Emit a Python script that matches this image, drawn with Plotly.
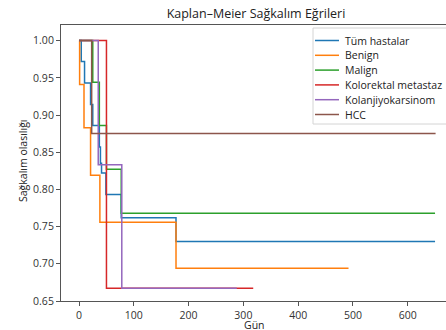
import plotly.graph_objects as go

# Kaplan-Meier step data (days, survival probability)
tum_t = [0, 4, 10, 21, 25, 37, 39, 41, 49, 77, 177, 650]
tum_s = [1.0, 0.972, 0.943, 0.914, 0.886, 0.857, 0.835, 0.822, 0.793, 0.762, 0.730, 0.730]

benign_t = [0, 1, 9, 21, 38, 177, 492]
benign_s = [1.0, 0.941, 0.883, 0.819, 0.756, 0.694, 0.694]

malign_t = [0, 25, 37, 50, 77, 650]
malign_s = [1.0, 0.944, 0.886, 0.827, 0.768, 0.768]

kolorektal_t = [0, 50, 318]
kolorektal_s = [1.0, 0.667, 0.667]

kolanj_t = [0, 35, 78, 288]
kolanj_s = [1.0, 0.833, 0.667, 0.667]

hcc_t = [0, 23, 651]
hcc_s = [1.0, 0.875, 0.875]

names = ["Tüm hastalar", "Benign", "Malign", "Kolorektal metastaz", "Kolanjiyokarsinom", "HCC"]
times = [tum_t, benign_t, malign_t, kolorektal_t, kolanj_t, hcc_t]
survs = [tum_s, benign_s, malign_s, kolorektal_s, kolanj_s, hcc_s]
colors = ["#1f77b4", "#ff7f0e", "#2ca02c", "#d62728", "#9467bd", "#8c564b"]

x_ticks = [0, 100, 200, 300, 400, 500, 600]
y_ticks = [0.65, 0.70, 0.75, 0.80, 0.85, 0.90, 0.95, 1.00]

W, H = 446, 330
L, R, T, B = 61, 0, 25, 29
PW, PH = W - L - R, H - T - B


def px(X):
    return (X - L) / PW


def py(Y):
    return (H - B - Y) / PH


fig = go.Figure()
for name, t, s, c in zip(names, times, survs, colors):
    fig.add_trace(go.Scatter(x=t, y=s, mode="lines", name=name, showlegend=False,
                             line=dict(color=c, width=1.5, shape="hv")))

font = "Open Sans, DejaVu Sans, sans-serif"
shapes = []
annotations = []

# legend box (matplotlib-style)
shapes.append(dict(type="rect", xref="paper", yref="paper",
                   x0=px(313), x1=px(449), y0=py(124), y1=py(28),
                   line=dict(color="#d4d4d4", width=1),
                   fillcolor="rgba(255,255,255,0.85)", layer="above"))
for i, (name, c) in enumerate(zip(names, colors)):
    yc = 40.5 + i * 14.8
    shapes.append(dict(type="line", xref="paper", yref="paper",
                       x0=px(315), x1=px(339), y0=py(yc), y1=py(yc),
                       line=dict(color=c, width=1.5), layer="above"))
    annotations.append(dict(text=name, xref="paper", yref="paper", x=px(343), y=py(yc),
                            xanchor="left", yanchor="middle", showarrow=False,
                            font=dict(size=10.5, color="#222", family=font)))

# axis titles
annotations.append(dict(text="Sağkalım olasılığı", xref="paper", yref="paper",
                        x=px(23), y=py(161), textangle=-90, xanchor="center",
                        yanchor="middle", showarrow=False,
                        font=dict(size=10.5, color="#222", family=font)))
annotations.append(dict(text="Gün", xref="paper", yref="paper",
                        x=px(255), y=py(325), xanchor="center", yanchor="middle",
                        showarrow=False, font=dict(size=10.5, color="#222", family=font)))

fig.update_layout(
    width=W, height=H,
    margin=dict(l=L, r=R, t=T, b=B, autoexpand=False),
    paper_bgcolor="white", plot_bgcolor="white",
    font=dict(family=font, size=10.5, color="#333"),
    title=dict(text="Kaplan–Meier Sağkalım Eğrileri", x=px(256), xref="paper",
               xanchor="center", y=1 - 14 / H, yanchor="middle",
               font=dict(size=12.5, color="#222")),
    showlegend=False,
    shapes=shapes,
    annotations=annotations,
)
fig.update_xaxes(range=[-33, 670], tickvals=x_ticks, ticks="outside", ticklen=4,
                 tickcolor="#555", showline=True, linecolor="#555", linewidth=1,
                 mirror=True, showgrid=False, zeroline=False, automargin=False)
fig.update_yaxes(range=[0.65, 1.021], tickvals=y_ticks, tickformat=".2f",
                 ticks="outside", ticklen=4, tickcolor="#555", showline=True,
                 linecolor="#555", linewidth=1, mirror=False, showgrid=False,
                 zeroline=False, automargin=False)

fig.write_html("out.html", config={"displayModeBar": False},
               post_script="document.body.style.margin='0';document.body.style.overflow='hidden';")
